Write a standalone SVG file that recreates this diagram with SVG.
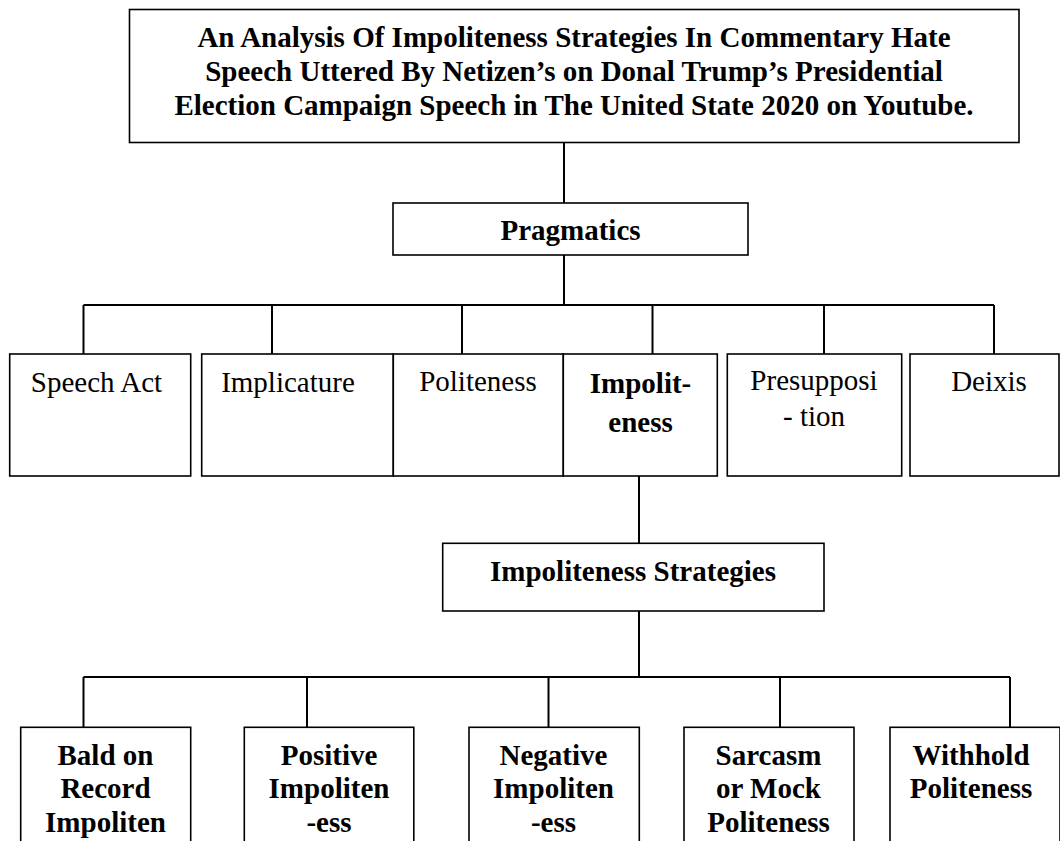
<svg xmlns="http://www.w3.org/2000/svg" width="1060" height="841" viewBox="0 0 1060 841">
  <style>
    .box { fill: #ffffff; stroke: #000000; stroke-width: 1.6; }
    .conn { fill: none; stroke: #000000; stroke-width: 2; }
    text { font-family: "Liberation Serif", "Times New Roman", serif; font-size: 29px; fill: #000000; text-anchor: middle; }
    .b { font-weight: bold; }
  </style>
  <rect x="0" y="0" width="1060" height="841" fill="#ffffff"/>

  <g id="connectors">
    <path class="conn" d="M564 143 V203"/>
    <path class="conn" d="M564 255 V305"/>
    <path class="conn" d="M83.5 305 H994"/>
    <path class="conn" d="M83.5 305 V354"/>
    <path class="conn" d="M272 305 V354"/>
    <path class="conn" d="M462 305 V354"/>
    <path class="conn" d="M652.5 305 V354"/>
    <path class="conn" d="M824 305 V354"/>
    <path class="conn" d="M994 305 V354"/>
    <path class="conn" d="M639 476 V543"/>
    <path class="conn" d="M639 611 V677"/>
    <path class="conn" d="M83.5 677 H1010"/>
    <path class="conn" d="M83.5 677 V727"/>
    <path class="conn" d="M307 677 V727"/>
    <path class="conn" d="M548.5 677 V727"/>
    <path class="conn" d="M780 677 V727"/>
    <path class="conn" d="M1010 677 V727"/>
  </g>

  <g id="node-title">
    <rect class="box" x="129.5" y="9.5" width="889.5" height="133"/>
    <text class="b" x="574" y="47">An Analysis Of Impoliteness Strategies In Commentary Hate</text>
    <text class="b" x="574" y="81">Speech Uttered By Netizen’s on Donal Trump’s Presidential</text>
    <text class="b" x="574" y="115">Election Campaign Speech in The United State 2020 on Youtube.</text>
  </g>

  <g id="node-pragmatics">
    <rect class="box" x="393" y="203" width="355" height="52"/>
    <text class="b" x="570.5" y="240">Pragmatics</text>
  </g>

  <g id="node-speech-act">
    <rect class="box" x="9.7" y="354" width="181" height="122"/>
    <text x="96.5" y="391.5">Speech Act</text>
  </g>

  <g id="node-implicature">
    <rect class="box" x="201.7" y="354" width="191.6" height="122"/>
    <text x="288" y="391.5">Implicature</text>
  </g>

  <g id="node-politeness">
    <rect class="box" x="393.3" y="354" width="170" height="122"/>
    <text x="478" y="391">Politeness</text>
  </g>

  <g id="node-impoliteness">
    <rect class="box" x="563.3" y="354" width="154" height="122"/>
    <text class="b" x="640.5" y="393">Impolit-</text>
    <text class="b" x="640.5" y="431.5">eness</text>
  </g>

  <g id="node-presupposition">
    <rect class="box" x="727.3" y="354" width="174.4" height="122"/>
    <text x="814" y="390">Presupposi</text>
    <text x="814" y="426">- tion</text>
  </g>

  <g id="node-deixis">
    <rect class="box" x="910" y="354" width="149" height="122"/>
    <text x="989" y="391">Deixis</text>
  </g>

  <g id="node-impoliteness-strategies">
    <rect class="box" x="442.7" y="543.3" width="381.3" height="67.7"/>
    <text class="b" x="633" y="580.5">Impoliteness Strategies</text>
  </g>

  <g id="node-bald-on-record">
    <rect class="box" x="20.7" y="727.3" width="170" height="130"/>
    <text class="b" x="105.5" y="765">Bald on</text>
    <text class="b" x="105.5" y="798.3">Record</text>
    <text class="b" x="105.5" y="831.7">Impoliten</text>
  </g>

  <g id="node-positive">
    <rect class="box" x="244.3" y="727.3" width="169.5" height="130"/>
    <text class="b" x="329" y="765">Positive</text>
    <text class="b" x="329" y="798.3">Impoliten</text>
    <text class="b" x="329" y="831.7">-ess</text>
  </g>

  <g id="node-negative">
    <rect class="box" x="469" y="727.3" width="170.3" height="130"/>
    <text class="b" x="553.5" y="765">Negative</text>
    <text class="b" x="553.5" y="798.3">Impoliten</text>
    <text class="b" x="553.5" y="831.7">-ess</text>
  </g>

  <g id="node-sarcasm">
    <rect class="box" x="684" y="727.3" width="170" height="130"/>
    <text class="b" x="768.5" y="765">Sarcasm</text>
    <text class="b" x="768.5" y="798.3">or Mock</text>
    <text class="b" x="768.5" y="831.7">Politeness</text>
  </g>

  <g id="node-withhold">
    <rect class="box" x="890" y="727.3" width="170" height="130"/>
    <text class="b" x="971" y="765">Withhold</text>
    <text class="b" x="971" y="798.3">Politeness</text>
  </g>
</svg>
